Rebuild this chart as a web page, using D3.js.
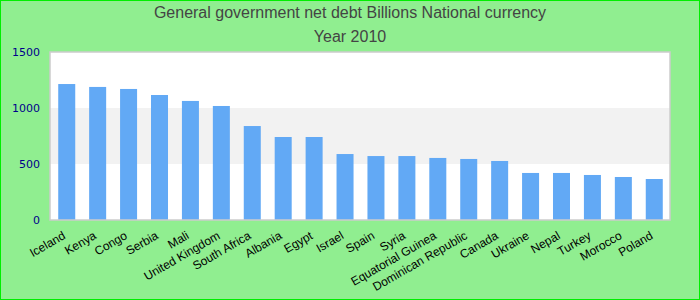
<!DOCTYPE html>
<html>
<head>
<meta charset="utf-8">
<script src="https://cdn.jsdelivr.net/npm/d3@7"></script>
<style>
  body { margin: 0; }
  svg { display: block; }
</style>
</head>
<body>
<div id="chart"></div>
<script>
const countries = ["Iceland", "Kenya", "Congo", "Serbia", "Mali", "United Kingdom", "South Africa",
    "Albania", "Egypt", "Israel", "Spain", "Syria", "Equatorial Guinea", "Dominican Republic",
    "Canada", "Ukraine", "Nepal", "Turkey", "Morocco", "Poland"];
const debt = [1214, 1188, 1170, 1116, 1063, 1018, 839, 741, 741, 589, 571, 571, 554, 545, 527,
    420, 420, 402, 384, 366];
const yTicks = [0, 500, 1000, 1500];
const titleLines = ["General government net debt Billions National currency", "Year 2010"];

const W = 700, H = 300;
const margin = {top: 52, right: 30, bottom: 80, left: 50};
const width = W - margin.left - margin.right;
const height = H - margin.top - margin.bottom;

const svg = d3.select('#chart').append('svg')
    .attr('width', W)
    .attr('height', H);

// background + green frame
svg.append('rect')
    .attr('x', 0.5).attr('y', 0.5)
    .attr('width', W - 1).attr('height', H - 1)
    .attr('fill', '#90ee90')
    .attr('stroke', '#00ee00');

svg.selectAll('.title')
    .data(titleLines)
    .enter().append('text')
    .attr('class', 'title')
    .attr('x', W / 2)
    .attr('y', (d, i) => 18 + i * 24)
    .attr('text-anchor', 'middle')
    .attr('font-family', 'Liberation Sans, Arial, sans-serif')
    .attr('font-size', 16)
    .attr('fill', '#444')
    .text(d => d);

const g = svg.append('g')
    .attr('transform', `translate(${margin.left},${margin.top})`);

const x = d3.scaleBand()
    .domain(countries)
    .range([0, width])
    .paddingInner(0.45)
    .paddingOuter(0.25);

const y = d3.scaleLinear()
    .domain([0, 1500])
    .range([height, 0]);

// plot background, alternating bands
g.append('rect')
    .attr('width', width)
    .attr('height', height)
    .attr('fill', '#fff');

const bands = d3.pairs(yTicks);
g.selectAll('.band')
    .data(bands)
    .enter().append('rect')
    .attr('class', 'band')
    .attr('x', 0)
    .attr('y', d => y(d[1]))
    .attr('width', width)
    .attr('height', d => y(d[0]) - y(d[1]))
    .attr('fill', (d, i) => i % 2 ? '#f2f2f2' : '#fff');

g.selectAll('.bar')
    .data(countries)
    .enter().append('rect')
    .attr('class', 'bar')
    .attr('x', d => x(d) + 0.5)
    .attr('y', (d, i) => y(debt[i]))
    .attr('width', x.bandwidth())
    .attr('height', (d, i) => height - y(debt[i]))
    .attr('fill', '#62a9f5');

g.append('rect')
    .attr('x', 0).attr('y', 0)
    .attr('width', width).attr('height', height)
    .attr('fill', 'none')
    .attr('stroke', '#ccc')
    .attr('stroke-width', 1.5);

// y axis
const yAxis = g.append('g')
    .call(d3.axisLeft(y).tickValues(yTicks).tickFormat(d3.format('d')).tickSize(0).tickPadding(10));
yAxis.select('.domain').remove();
yAxis.selectAll('text')
    .attr('font-family', 'DejaVu Sans, sans-serif')
    .attr('font-size', 11)
    .attr('fill', '#00008b');

// x axis
const xAxis = g.append('g')
    .attr('transform', `translate(0,${height})`)
    .call(d3.axisBottom(x).tickSize(0).tickPadding(0));
xAxis.select('.domain').remove();
xAxis.selectAll('text')
    .attr('font-family', 'Liberation Sans, Arial, sans-serif')
    .attr('font-size', 12)
    .attr('fill', '#000')
    .attr('text-anchor', 'end')
    .attr('dy', null)
    .attr('transform', 'translate(0,18) rotate(-30)');
</script>
</body>
</html>
